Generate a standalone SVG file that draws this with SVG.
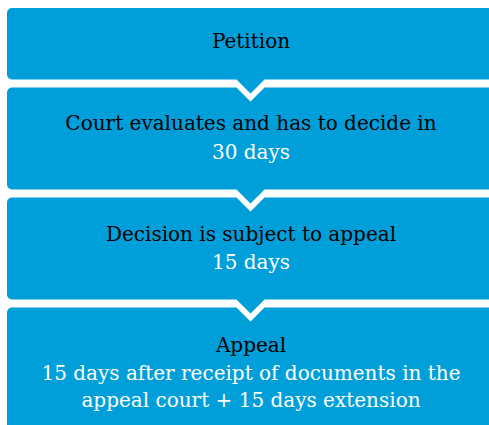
<svg xmlns="http://www.w3.org/2000/svg" width="489" height="425" viewBox="0 0 489 425">
<style>
.box{fill:#009FDA;}
text{font-family:"DejaVu Serif","Liberation Serif",serif;font-size:20px;text-anchor:middle;}
.t{fill:#000000;}
.s{fill:#FFFFFF;}
</style>
<rect x="0" y="0" width="489" height="425" fill="#FFFFFF"/>
<g id="node-petition">
<path class="box" d="M7 13 A5 5 0 0 1 12 8 H500 V79.5 H264.5 L250.5 93.5 L236.5 79.5 H12 A5 5 0 0 1 7 74.5 Z"/>
<text class="t" x="251" y="48">Petition</text>
</g>
<g id="node-court">
<path class="box" d="M7 92.5 A5 5 0 0 1 12 87.5 H236.5 L250.5 101.5 L264.5 87.5 H500 V189.5 H264.5 L250.5 203.5 L236.5 189.5 H12 A5 5 0 0 1 7 184.5 Z"/>
<text class="t" x="251" y="130">Court evaluates and has to decide in</text>
<text class="s" x="251" y="159">30 days</text>
</g>
<g id="node-decision">
<path class="box" d="M7 202.5 A5 5 0 0 1 12 197.5 H236.5 L250.5 211.5 L264.5 197.5 H500 V299.5 H264.5 L250.5 313.5 L236.5 299.5 H12 A5 5 0 0 1 7 294.5 Z"/>
<text class="t" x="251" y="241">Decision is subject to appeal</text>
<text class="s" x="251" y="269">15 days</text>
</g>
<g id="node-appeal">
<path class="box" d="M7 312.5 A5 5 0 0 1 12 307.5 H236.5 L250.5 321.5 L264.5 307.5 H500 V440 H7 Z"/>
<text class="t" x="251" y="352">Appeal</text>
<text class="s" x="251" y="380">15 days after receipt of documents in the</text>
<text class="s" x="251" y="407">appeal court + 15 days extension</text>
</g>
</svg>
